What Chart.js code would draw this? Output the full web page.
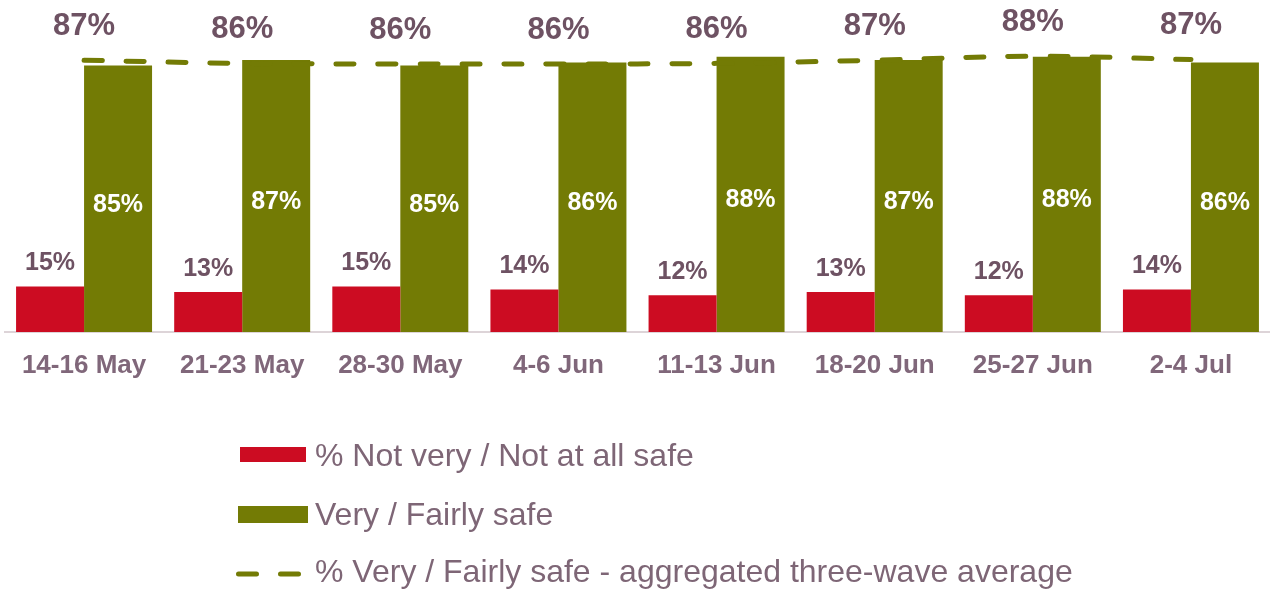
<!DOCTYPE html>
<html>
<head>
<meta charset="utf-8">
<script src="https://cdn.jsdelivr.net/npm/chart.js@4.4.1/dist/chart.umd.min.js"></script>
<style>
  html, body { margin: 0; padding: 0; background: #fff; overflow: hidden; }
  #wrap { width: 1270px; height: 591px; position: relative; }
</style>
</head>
<body>
<div id="wrap"><canvas id="safetyChart"></canvas></div>
<script>
var waves = ['14-16 May', '21-23 May', '28-30 May', '4-6 Jun', '11-13 Jun', '18-20 Jun', '25-27 Jun', '2-4 Jul'];
var notSafe = [14.6, 12.8, 14.6, 13.6, 11.8, 12.8, 11.8, 13.6];
var safe = [85.4, 87.2, 85.4, 86.4, 88.2, 87.2, 88.2, 86.4];
var threeWaveAvg = [87.1, 86.1, 85.9, 85.9, 86.1, 87.1, 88.4, 87.3];

var RED = '#cc0c22';
var GREEN = '#737b05';
var FONT = "'Liberation Sans', Arial, sans-serif";

function pct(v) { return Math.round(v) + '%'; }

// value labels: red above bar, green inside bar, average above the dashed line
var labelPlugin = {
  id: 'valueLabels',
  afterDatasetsDraw: function(chart) {
    var ctx = chart.ctx;
    var base = chart.scales.y.getPixelForValue(0);
    ctx.save();
    ctx.textAlign = 'center';
    ctx.textBaseline = 'middle';

    ctx.font = 'bold 25px ' + FONT;
    ctx.fillStyle = '#6e5263';
    chart.getDatasetMeta(0).data.forEach(function(bar, i) {
      ctx.fillText(pct(notSafe[i]), bar.x, bar.y - 23);
    });

    ctx.fillStyle = '#ffffff';
    chart.getDatasetMeta(1).data.forEach(function(bar, i) {
      ctx.fillText(pct(safe[i]), bar.x, (bar.y + base) / 2 + 6);
    });

    ctx.font = 'bold 31px ' + FONT;
    ctx.fillStyle = '#6e5263';
    chart.getDatasetMeta(2).data.forEach(function(pt, i) {
      ctx.fillText(pct(threeWaveAvg[i]), pt.x, pt.y - 34);
    });
    ctx.restore();
  },
  afterDraw: function(chart) {
    // legend stacked in rows under the axis
    var ctx = chart.ctx;
    var ds = chart.data.datasets;
    ctx.save();

    ctx.fillStyle = ds[0].backgroundColor;
    ctx.fillRect(240, 447, 66, 15);
    ctx.fillStyle = ds[1].backgroundColor;
    ctx.fillRect(238, 506, 70, 17);

    ctx.strokeStyle = ds[2].borderColor;
    ctx.lineWidth = 5;
    ctx.lineCap = 'round';
    ctx.setLineDash([18, 24]);
    ctx.beginPath();
    ctx.moveTo(238.5, 574);
    ctx.lineTo(302, 574);
    ctx.stroke();

    ctx.font = '32px ' + FONT;
    ctx.textBaseline = 'middle';
    ctx.fillStyle = '#7e6676';
    ctx.fillText(ds[0].label, 315, 457);
    ctx.fillText(ds[1].label, 315, 516);
    ctx.fillText(ds[2].label, 315, 573);
    ctx.restore();
  }
};

var ctx = document.getElementById('safetyChart').getContext('2d');
var safetyChart = new Chart(ctx, {
  data: {
    labels: waves,
    datasets: [{
      type: 'bar',
      label: '% Not very / Not at all safe',
      data: notSafe,
      backgroundColor: RED,
      order: 1
    }, {
      type: 'bar',
      label: 'Very / Fairly safe',
      data: safe,
      backgroundColor: GREEN,
      order: 1
    }, {
      type: 'line',
      label: '% Very / Fairly safe - aggregated three-wave average',
      data: threeWaveAvg,
      borderColor: GREEN,
      borderWidth: 5,
      borderDash: [18, 24],
      borderCapStyle: 'round',
      tension: 0.35,
      pointRadius: 0,
      fill: false,
      order: 0
    }]
  },
  options: {
    responsive: true,
    maintainAspectRatio: false,
    animation: false,
    layout: { padding: { top: 20, left: 5, right: 0, bottom: 0 } },
    datasets: {
      bar: { categoryPercentage: 0.86, barPercentage: 1.0 }
    },
    plugins: {
      legend: { display: false },
      tooltip: { enabled: false }
    },
    scales: {
      x: {
        grid: { display: true, drawOnChartArea: false, drawTicks: false },
        border: { display: true, color: '#ddd4d8', width: 2 },
        ticks: {
          color: '#80677a',
          font: { family: FONT, size: 26, weight: 'bold' },
          padding: 18,
          maxRotation: 0
        },
        afterFit: function(scale) { scale.height = 259; }
      },
      y: {
        display: false,
        min: 0,
        max: 100
      }
    }
  },
  plugins: [labelPlugin]
});
</script>
</body>
</html>
